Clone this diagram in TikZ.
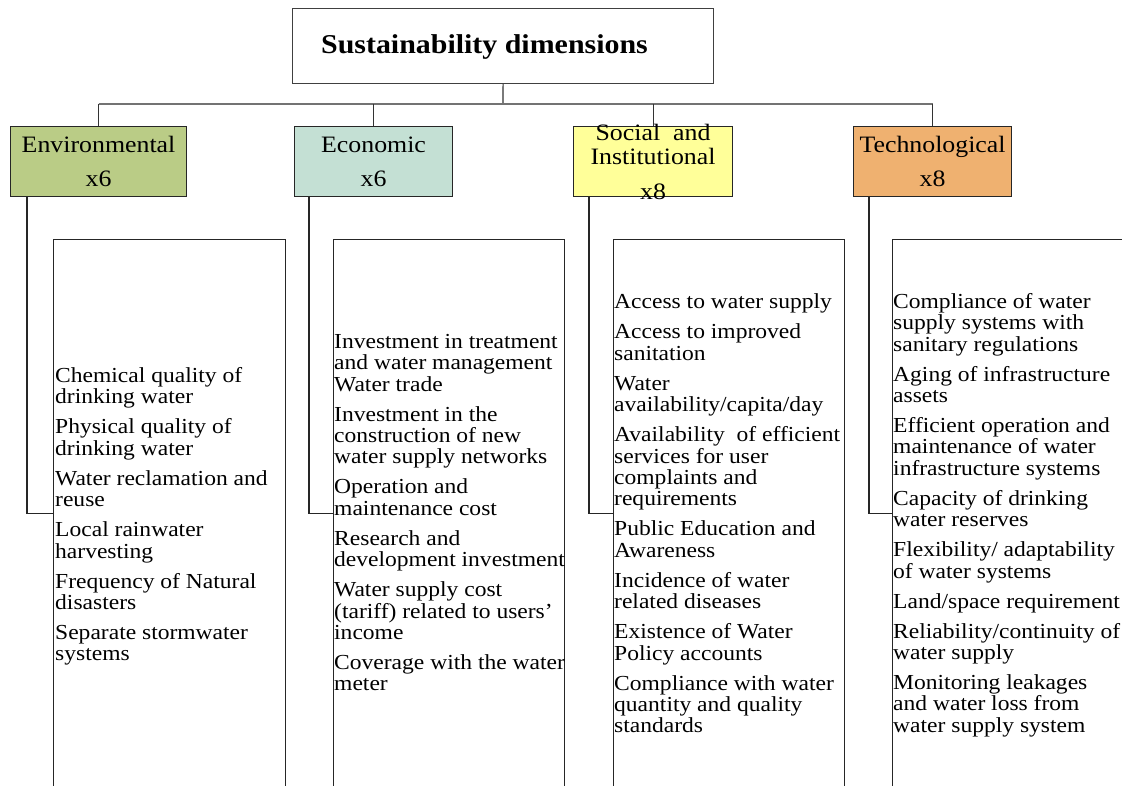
\documentclass[tikz,border=0pt]{standalone}
\usepackage{fontspec}
\setmainfont{Liberation Serif}[FakeStretch=1.1, Ligatures={TeX,NoCommon}]
\usetikzlibrary{calc}

\definecolor{envfill}{RGB}{186,204,134}
\definecolor{ecofill}{RGB}{196,224,212}
\definecolor{socfill}{RGB}{255,255,153}
\definecolor{tecfill}{RGB}{239,177,112}

\begin{document}
\begin{tikzpicture}[x=1pt,y=-1pt,
  boxline/.style={draw=black!85, line width=1.1pt},
  titlebox/.style={boxline, draw=black!75, anchor=north west, inner sep=0,
    minimum width=421pt, minimum height=75pt},
  catbox/.style={boxline, anchor=north west, inner sep=0, minimum height=70pt},
  detailbox/.style={boxline, anchor=north west, inner sep=0, minimum height=548pt},
  catlabel/.style={inner sep=0, align=center, font=\fontsize{23.5}{24}\selectfont},
  items/.style={inner sep=0, align=left, anchor=west, font=\fontsize{21.4}{21.4}\selectfont},
  busline/.style={draw=black!55, line width=1.5pt},
  dropline/.style={draw=black!80, line width=1.1pt},
  linkline/.style={draw=black!85, line width=1.1pt}
]
\useasboundingbox (0,0) rectangle (1122,786);
\fill[white] (0,0) rectangle (1122,786);
\clip (0,0) rectangle (1122,786);

% title
\node[titlebox] (title) at (292,8) {};
\node[font=\bfseries\fontsize{27.2}{30}\selectfont, inner sep=0, anchor=base] (titlel) at (484.5,53.5) {Sustainability dimensions};

% dimension boxes
\node[catbox, fill=envfill, minimum width=176pt] (env) at (10,126) {};
\node[catbox, fill=ecofill, minimum width=158pt] (eco) at (294,126) {};
\node[catbox, fill=socfill, minimum width=159pt] (soc) at (573,126) {};
\node[catbox, fill=tecfill, minimum width=158pt] (tec) at (853,126) {};

\node[catlabel] (envl) at (env.center) {Environmental\\[10pt]x6};
\node[catlabel] (ecol) at (eco.center) {Economic\\[10pt]x6};
\node[catlabel] (socl) at (soc.center) {Social\hspace{0.55em}and\\Institutional\\[11pt]x8};
\node[catlabel] (tecl) at (tec.center) {Technological\\[10pt]x8};

% tree connectors
\coordinate (bus) at (503,104);
\draw[dropline] (title.south) -- (bus);
\draw[busline] (env.north |- bus) -- (tec.north |- bus);
\draw[dropline] (env.north |- bus) -- (env.north);
\draw[dropline] (eco.north |- bus) -- (eco.north);
\draw[dropline] (soc.north |- bus) -- (soc.north);
\draw[dropline] (tec.north |- bus) -- (tec.north);

% indicator boxes
\node[detailbox, minimum width=232pt] (envd) at (53,239) {};
\node[detailbox, minimum width=231pt] (ecod) at (333,239) {};
\node[detailbox, minimum width=231pt] (socd) at (613,239) {};
\node[detailbox, minimum width=235pt] (tecd) at (892,239) {};

\coordinate (envk) at ($(env.south west)+(17,0)$);
\coordinate (ecok) at ($(eco.south west)+(15,0)$);
\coordinate (sock) at ($(soc.south west)+(16,0)$);
\coordinate (teck) at ($(tec.south west)+(16,0)$);
\draw[linkline] (envk) |- (envd.west);
\draw[linkline] (ecok) |- (ecod.west);
\draw[linkline] (sock) |- (socd.west);
\draw[linkline] (teck) |- (tecd.west);

% indicator lists
\node[items] (envt) at ($(envd.west)+(2,3)$) {%
Chemical quality of\\drinking water\\[8.6pt]
Physical quality of\\drinking water\\[8.6pt]
Water reclamation and\\reuse\\[8.6pt]
Local rainwater\\harvesting\\[8.6pt]
Frequency of Natural\\disasters\\[8.6pt]
Separate stormwater\\systems};

\node[items] (ecot) at ($(ecod.west)+(1,-1)$) {%
Investment in treatment\\and water management\\Water trade\\[8.6pt]
Investment in the\\construction of new\\water supply networks\\[8.6pt]
Operation and\\maintenance cost\\[8.6pt]
Research and\\development investment\\[8.6pt]
Water supply cost\\(tariff) related to users’\\income\\[8.6pt]
Coverage with the water\\meter};

\node[items] (soct) at ($(socd.west)+(1,0)$) {%
Access to water supply\\[8.6pt]
Access to improved\\sanitation\\[8.6pt]
Water\\availability/capita/day\\[8.6pt]
Availability\ \ of efficient\\services for user\\complaints and\\requirements\\[8.6pt]
Public Education and\\Awareness\\[8.6pt]
Incidence of water\\related diseases\\[8.6pt]
Existence of Water\\Policy accounts\\[8.6pt]
Compliance with water\\quantity and quality\\standards};

\node[items] (tect) at ($(tecd.west)+(1,1.5)$) {%
Compliance of water\\supply systems with\\sanitary regulations\\[8.6pt]
Aging of infrastructure\\assets\\[8.6pt]
Efficient operation and\\maintenance of water\\infrastructure systems\\[8.6pt]
Capacity of drinking\\water reserves\\[8.6pt]
Flexibility/ adaptability\\of water systems\\[8.6pt]
Land/space requirement\\[8.6pt]
Reliability/continuity of\\water supply\\[8.6pt]
Monitoring leakages\\and water loss from\\water supply system};
\end{tikzpicture}
\end{document}
